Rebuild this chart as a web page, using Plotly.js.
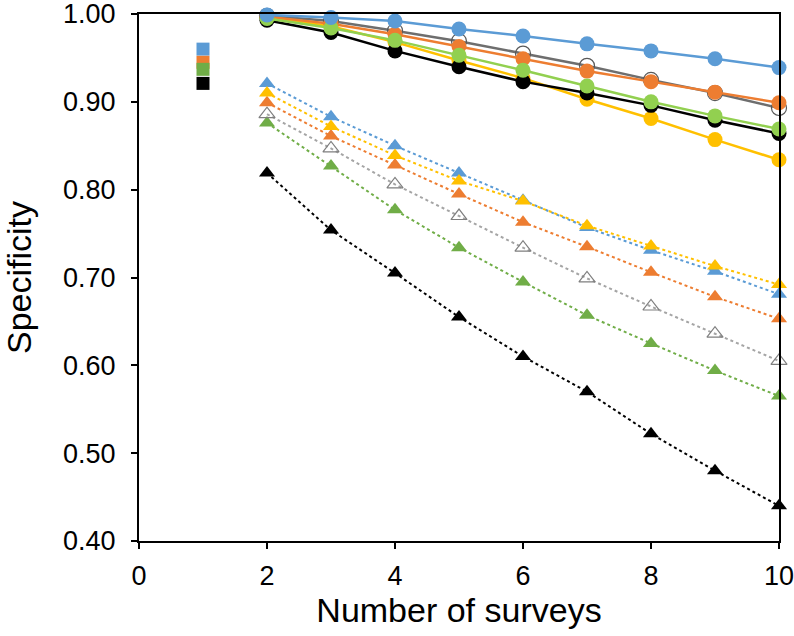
<!DOCTYPE html>
<html>
<head>
<meta charset="utf-8">
<script src="https://cdn.plot.ly/plotly-3.0.1.min.js"></script>
<style>html,body{margin:0;padding:0;background:#fff;}#chart{width:794px;height:636px;}</style>
</head>
<body>
<div id="chart"></div>
<script>
// Data
const surveys = [2, 3, 4, 5, 6, 7, 8, 9, 10];
const squareX = [1];
const xTicks = [0, 2, 4, 6, 8, 10];
const yTicks = [0.40, 0.50, 0.60, 0.70, 0.80, 0.90, 1.00];
const yTickLabels = ['0.40', '0.50', '0.60', '0.70', '0.80', '0.90', '1.00'];

// Circle series (solid lines)
const circBlue   = [0.999, 0.996, 0.992, 0.983, 0.975, 0.966, 0.958, 0.949, 0.939];
const circGray   = [0.998, 0.992, 0.981, 0.969, 0.955, 0.941, 0.925, 0.910, 0.893];
const circOrange = [0.997, 0.989, 0.977, 0.963, 0.949, 0.935, 0.923, 0.911, 0.899];
const circYellow = [0.996, 0.986, 0.968, 0.947, 0.927, 0.903, 0.881, 0.857, 0.834];
const circGreen  = [0.995, 0.984, 0.970, 0.953, 0.936, 0.918, 0.900, 0.884, 0.869];
const circBlack  = [0.993, 0.979, 0.958, 0.940, 0.923, 0.910, 0.896, 0.879, 0.864];

// Triangle series (dotted lines)
const triBlue   = [0.921, 0.883, 0.850, 0.819, 0.788, 0.757, 0.731, 0.707, 0.681];
const triYellow = [0.910, 0.872, 0.839, 0.810, 0.787, 0.759, 0.736, 0.713, 0.692];
const triOrange = [0.899, 0.861, 0.828, 0.795, 0.763, 0.735, 0.706, 0.678, 0.653];
const triGray   = [0.886, 0.847, 0.806, 0.770, 0.734, 0.699, 0.667, 0.636, 0.605];
const triGreen  = [0.876, 0.827, 0.777, 0.734, 0.695, 0.657, 0.625, 0.594, 0.565];
const triBlack  = [0.819, 0.754, 0.705, 0.655, 0.610, 0.570, 0.522, 0.480, 0.440];

// Squares at x = 1
const sqBlue = [0.960], sqOrange = [0.945], sqGreen = [0.937], sqBlack = [0.921];

const C = {blue:'#5B9BD5', orange:'#ED7D31', yellow:'#FFC000', lgreen:'#92D050', green:'#70AD47', gray:'#A5A5A5', black:'#000000'};

function tri(y, color, open, lineColor){
  return {x: surveys, y: y, mode:'lines+markers', type:'scatter', cliponaxis:false,
    line:{color: lineColor || color, width:2, dash:'dot'},
    marker:{symbol: open ? 'triangle-up-open' : 'triangle-up', size:14, color: open ? '#7F7F7F' : color,
      line:{color: open ? '#7F7F7F' : color, width: open ? 1.2 : 0}}};
}
function circ(y, color, open, lineColor){
  return {x: surveys, y: y, mode:'lines+markers', type:'scatter', cliponaxis:false,
    line:{color: lineColor || color, width:2.5},
    marker:{symbol: open ? 'circle-open' : 'circle', size:15, color: open ? '#595959' : color,
      line:{color: open ? '#595959' : color, width: open ? 1.2 : 0}}};
}
function sq(y, color){
  return {x: squareX, y: y, mode:'markers', type:'scatter', cliponaxis:false,
    marker:{symbol:'square', size:13, color: color}};
}

const data = [
  tri(triBlack, C.black),
  tri(triGreen, C.green),
  tri(triGray, C.gray, true, '#A5A5A5'),
  tri(triOrange, C.orange),
  tri(triBlue, C.blue),
  tri(triYellow, C.yellow),
  circ(circYellow, C.yellow),
  circ(circBlack, C.black),
  circ(circGray, C.gray, true, '#6E6E6E'),
  circ(circOrange, C.orange),
  circ(circGreen, C.lgreen),
  circ(circBlue, C.blue),
  sq(sqBlue, C.blue),
  sq(sqOrange, C.orange),
  sq(sqGreen, C.green),
  sq(sqBlack, C.black)
];

const FONT = 'Liberation Sans, Arial, sans-serif';
const axisCommon = {showline:true, mirror:true, linecolor:'#000', linewidth:2, ticks:'outside', ticklen:6, tickwidth:2, tickcolor:'#000', showgrid:false, zeroline:false,
  ticklabeloverflow:'allow', tickfont:{family:FONT, size:27, color:'#000'}};

const layout = {
  width:794, height:636,
  margin:{l:139, r:15, t:14, b:95},
  showlegend:false,
  paper_bgcolor:'#fff', plot_bgcolor:'#fff',
  xaxis: Object.assign({}, axisCommon, {range:[0,10], tickmode:'array', tickvals:xTicks, ticklabelstandoff:4,
    title:{text:'Number of surveys', font:{family:FONT, size:34, color:'#000'}, standoff:2}}),
  yaxis: Object.assign({}, axisCommon, {range:[0.4,1.0], tickmode:'array', tickvals:yTicks, ticktext:yTickLabels, ticklabelstandoff:10,
    title:{text:'Specificity', font:{family:FONT, size:34, color:'#000'}, standoff:24}})
};

Plotly.newPlot('chart', data, layout, {staticPlot:true, displayModeBar:false});
</script>
</body>
</html>
